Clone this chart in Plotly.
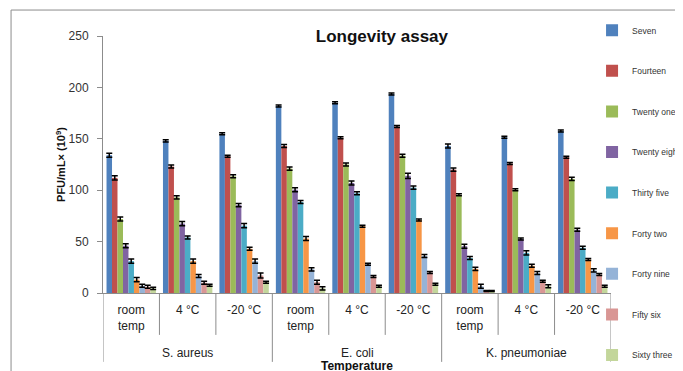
import plotly.graph_objects as go

bacteria = ["S. aureus", "E. coli", "K. pneumoniae"]
temps = ["room<br>temp", "4 °C", "-20 °C"]
series_names = ["Seven", "Fourteen", "Twenty one", "Twenty eight", "Thirty five",
                "Forty two", "Forty nine", "Fifty six", "Sixty three"]
colors = ["#4F81BD", "#C0504D", "#9BBB59", "#8064A2", "#4BACC6",
          "#F79646", "#95B3D7", "#D99694", "#C3D69B"]

# values per series across the 9 categories (S.aureus rt,4,-20, E.coli rt,4,-20, K.pn rt,4,-20)
seven        = [134, 148, 155, 182, 185, 193.5, 143, 151.5, 157.5]
fourteen     = [112, 123, 133, 143, 151, 162, 120, 126, 132]
twenty_one   = [72, 93, 113.5, 121, 125, 133.5, 95.5, 100.5, 111]
twenty_eight = [46, 67.5, 85.5, 100.5, 107, 114, 45.5, 52.5, 61.5]
thirty_five  = [31, 54, 65.5, 88.5, 97, 102.5, 34, 39, 44]
forty_two    = [13, 31, 43, 53, 65, 71, 23.5, 26.5, 32.5]
forty_nine   = [7, 16.5, 31, 23, 28, 36, 6.5, 19.5, 22]
fifty_six    = [6, 10, 17, 10.5, 16, 20, 2, 11.5, 18]
sixty_three  = [4.5, 7.5, 10.5, 4.5, 6.5, 8.5, 2, 6.5, 6.5]
values = [seven, fourteen, twenty_one, twenty_eight, thirty_five,
          forty_two, forty_nine, fifty_six, sixty_three]

errors = [
    [2, 1, 1, 1, 1, 1, 2, 1, 1],
    [2, 1.5, 1, 1.5, 1, 1, 1.5, 1, 1],
    [2, 1.5, 1.5, 1.5, 1.5, 1.5, 1, 1, 1.5],
    [2, 2, 1.5, 2, 2, 2.5, 2, 1, 1.5],
    [2, 1.5, 2, 1.5, 1.5, 1.5, 1.5, 2, 1.5],
    [2, 2, 1.5, 2, 1, 1, 1.5, 1.5, 1],
    [1.5, 1.5, 2, 1.5, 1, 1.5, 2, 1.5, 1.5],
    [1.5, 1.5, 2.5, 2, 1, 1, 0.5, 1, 1],
    [1, 1, 1, 1.5, 1, 1, 0.5, 1.5, 1],
]

categories = [(b, t) for b in bacteria for t in temps]
idx = list(range(len(categories)))
inner_labels = [t for (_, t) in categories]

fig = go.Figure()
for name, col, vals, err in zip(series_names, colors, values, errors):
    fig.add_trace(go.Bar(
        x=idx, y=vals, name=name, legendgroup=name,
        marker=dict(color=col, line=dict(width=0)),
        error_y=dict(type="data", array=err, visible=True, color="black",
                     thickness=1.5, width=3),
    ))

axis_grey = "#8C8C8C"
shapes = []
n_t = len(temps)
for k in range(len(categories) + 1):
    xb = k - 0.5
    is_group = (k % n_t == 0)
    shapes.append(dict(type="line", xref="x", yref="paper", x0=xb, x1=xb,
                       y0=0, y1=(-0.268 if is_group else -0.163),
                       line=dict(color=axis_grey, width=1)))
# outer frame of the chart area
shapes.append(dict(type="line", xref="paper", yref="paper", x0=-0.181, x1=-0.181,
                   y0=-0.4, y1=1.101, line=dict(color=axis_grey, width=1)))
shapes.append(dict(type="line", xref="paper", yref="paper", x0=-0.181, x1=1.3,
                   y0=1.101, y1=1.101, line=dict(color=axis_grey, width=1)))

annotations = []
for gi, b in enumerate(bacteria):
    annotations.append(dict(text=b, xref="x", yref="paper", x=gi * n_t + (n_t - 1) / 2,
                            y=-0.233, yanchor="middle", showarrow=False,
                            font=dict(size=12, color="#222")))
annotations.append(dict(text="<b>Temperature</b>", xref="paper", yref="paper",
                        x=0.5, y=-0.283, yanchor="middle", showarrow=False,
                        font=dict(size=12, color="#111")))

W, H = 675, 363
fig.update_layout(
    width=W, height=H,
    margin=dict(l=95, r=72, t=28, b=78, autoexpand=False),
    paper_bgcolor="white", plot_bgcolor="white",
    font=dict(family="Liberation Sans, Arial, sans-serif", color="#333"),
    title=dict(text="<b>Longevity assay</b>", x=0.549, xref="paper",
               y=1 - 28 / H, yanchor="middle",
               font=dict(size=17, color="#111")),
    barmode="group", bargap=0.125, bargroupgap=0,
    showlegend=True,
    legend=dict(x=0.9627, xanchor="left", y=1.079, yanchor="top",
                font=dict(size=8.5, color="#333"), tracegroupgap=21.6,
                maxheight=500, bgcolor="rgba(0,0,0,0)"),
    xaxis=dict(range=[-0.5, len(categories) - 0.5], tickvals=idx, ticktext=inner_labels,
               showline=True, linecolor=axis_grey, ticks="", showgrid=False,
               ticklabelstandoff=6,
               zeroline=False, tickfont=dict(size=12, color="#222")),
    yaxis=dict(range=[0, 250], dtick=50, ticks="outside", ticklen=5, tickcolor=axis_grey,
               showline=True, linecolor=axis_grey, showgrid=False, zeroline=False,
               ticklabelstandoff=6,
               tickfont=dict(size=12, color="#333"),
               title=dict(text="<b>PFU/mL× (10<sup>9</sup>)</b>", standoff=0,
                          font=dict(size=11, color="#111"))),
    shapes=shapes, annotations=annotations,
)

fig.write_html("out.html")
